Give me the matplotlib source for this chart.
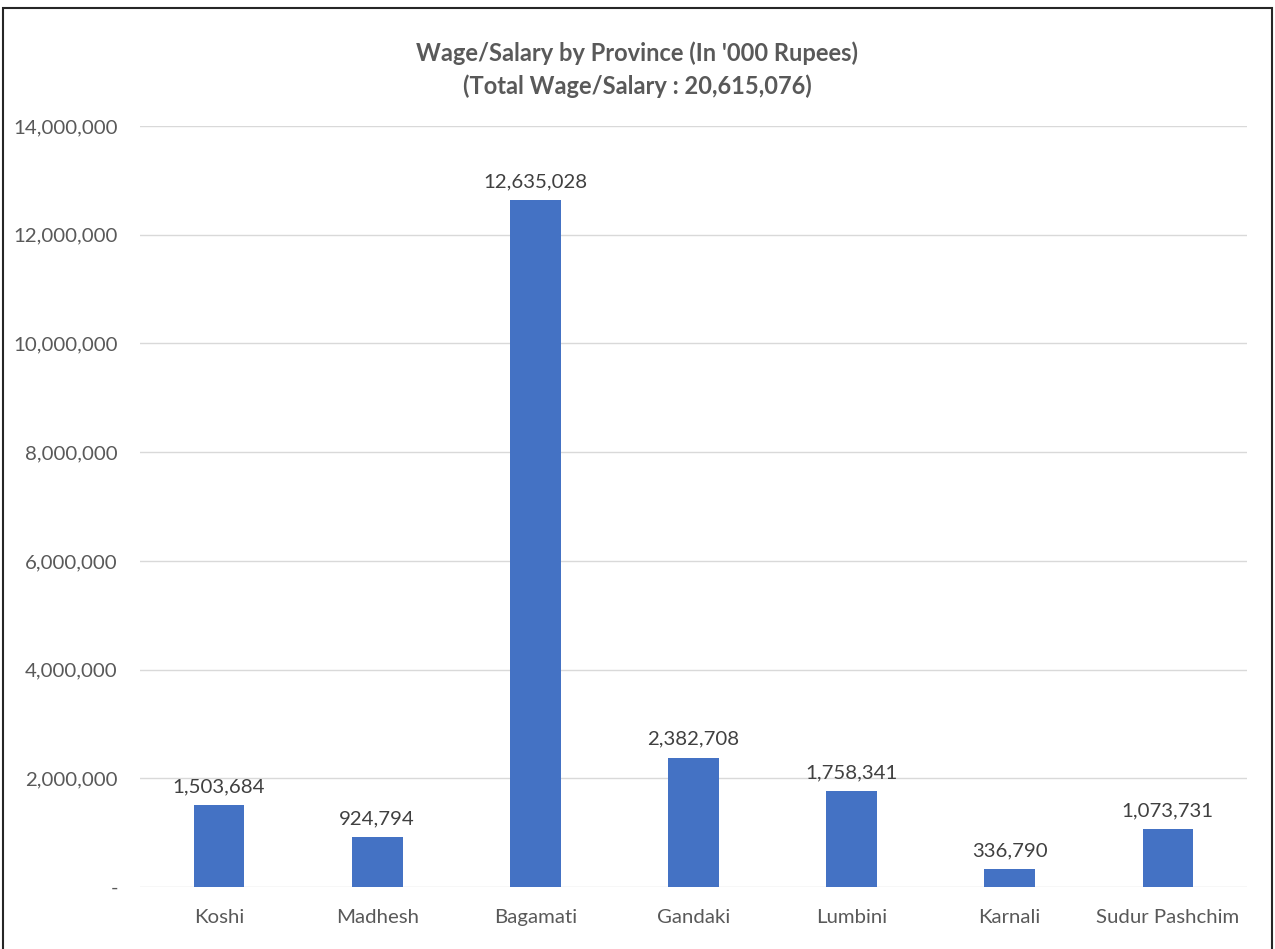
import matplotlib.pyplot as plt
from matplotlib.patches import Rectangle

provinces = ['Koshi', 'Madhesh', 'Bagamati', 'Gandaki', 'Lumbini', 'Karnali', 'Sudur Pashchim']
wages = [1503684, 924794, 12635028, 2382708, 1758341, 336790, 1073731]
yticks = [0, 2000000, 4000000, 6000000, 8000000, 10000000, 12000000, 14000000]

plt.rcParams['font.family'] = ['Lato', 'DejaVu Sans']
text_color = '#595959'

fig = plt.figure(figsize=(12.75, 9.49), dpi=100)
ax = fig.add_axes([0.1098, 0.0653, 0.8682, 0.8019])

x = range(len(provinces))
bars = ax.bar(x, wages, width=0.32, color='#4472C4', zorder=3)

for xi, v in zip(x, wages):
    ax.annotate(f'{v:,}', (xi, v), xytext=(0, 7), textcoords='offset points',
                ha='center', va='bottom', fontsize=14.7, color='#404040')

ax.set_xlim(-0.5, len(provinces) - 0.5)
ax.set_ylim(0, 14000000)
ax.set_yticks(yticks)
ax.set_yticklabels(['-' if t == 0 else f'{t:,}' for t in yticks])
ax.set_xticks(list(x))
ax.set_xticklabels(provinces)
ax.tick_params(axis='both', length=0, labelsize=14.7, labelcolor=text_color)
ax.tick_params(axis='x', pad=16)
ax.tick_params(axis='y', pad=16)
ax.grid(axis='y', color='#D9D9D9', linewidth=1, zorder=0)
for s in ax.spines.values():
    s.set_visible(False)

fig.text(0.5, 0.944, "Wage/Salary by Province (In '000 Rupees)", ha='center', va='center',
         fontsize=17, fontweight='bold', color=text_color)
fig.text(0.5, 0.909, "(Total Wage/Salary : 20,615,076)", ha='center', va='center',
         fontsize=17, fontweight='bold', color=text_color)

fig.patches.append(Rectangle((0.002, -0.01), 0.996, 1.002, transform=fig.transFigure,
                             fill=False, edgecolor='#262626', linewidth=1.5))

fig.savefig('out.png', dpi=100)
